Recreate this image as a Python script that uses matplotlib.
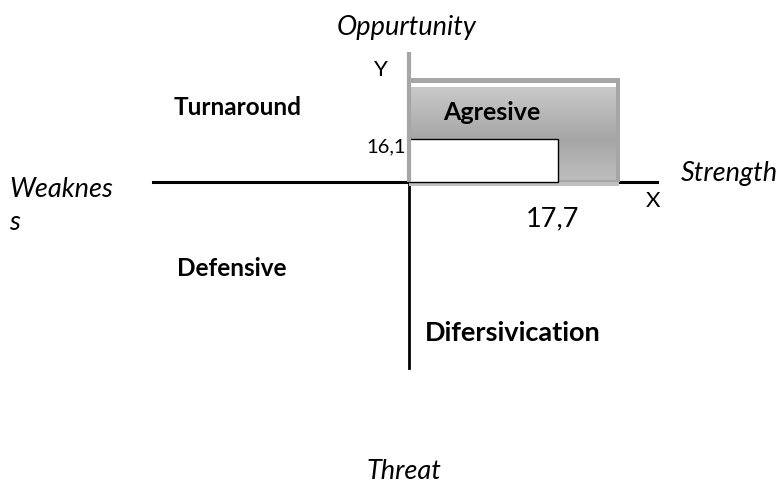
import numpy as np
import matplotlib
matplotlib.use("Agg")
import matplotlib.pyplot as plt
from matplotlib.patches import Rectangle
from matplotlib.colors import LinearSegmentedColormap

# data
x_value = 17.7
y_value = 16.1
x_label = "17,7"
y_label = "16,1"
quadrants = ["Turnaround", "Agresive", "Defensive", "Difersivication"]
sides = ["Oppurtunity", "Weaknes\ns", "Strength", "Threat"]

plt.rcParams['font.family'] = ['Lato', 'DejaVu Sans']

W, H = 784, 489
fig = plt.figure(figsize=(W / 100, H / 100), dpi=100)
ax = fig.add_axes([0, 0, 1, 1])
ax.axis('off')

# origin at pixel (409,183); x_value spans 149 px, y_value spans 43 px
ox, oy = 409, 183
sx = x_value / 149.0
sy = y_value / 43.0
ax.set_xlim(-ox * sx, (W - ox) * sx)
ax.set_ylim(-(H - oy) * sy, oy * sy)


def X(px):
    return (px - ox) * sx


def Y(py):
    return (oy - py) * sy


def rect(x0, y0, x1, y1, **kw):
    ax.add_patch(Rectangle((X(x0), Y(y1)), X(x1) - X(x0), Y(y0) - Y(y1), **kw))


# axes lines
ax.plot([X(153), X(657)], [0, 0], color='black', lw=2.2, zorder=1)
ax.plot([0, 0], [0, Y(369)], color='black', lw=2, zorder=1)

# grey box (gradient)
cmap = LinearSegmentedColormap.from_list('g', [(0, '#c9c9c9'), (0.55, '#a6a6a6'), (1, '#bebebe')])
grad = np.linspace(0, 1, 200).reshape(-1, 1)
ax.imshow(grad, cmap=cmap, aspect='auto', extent=[X(409), X(619), Y(183), Y(88)],
          zorder=2, interpolation='bilinear')
rect(412, 84, 617, 88, color='white', lw=0, zorder=3)
rect(409, 79, 620, 84, color='#a6a6a6', lw=0, zorder=3)
rect(616, 79, 620, 183, color='#a6a6a6', lw=0, zorder=3)
rect(409, 181, 619, 183, color='#a6a6a6', lw=0, zorder=3)
rect(409, 183, 619, 187, color='#c0c0c0', lw=0, zorder=3)

# white value box
ax.add_patch(Rectangle((0, 0), x_value, y_value, facecolor='white',
                       edgecolor='black', lw=1, zorder=4))
# grey y axis above origin
ax.plot([0, 0], [0, Y(53)], color='#a6a6a6', lw=3, zorder=5, solid_capstyle='butt')

# labels
ax.text(X(407), Y(27), sides[0], style='italic', fontsize=19.5, ha='center', va='center')
ax.text(X(9), Y(206), sides[1], style='italic', fontsize=19.5, ha='left', va='center',
        linespacing=1.4)
ax.text(X(681), Y(173), sides[2], style='italic', fontsize=19.5, ha='left', va='center')
ax.text(X(404), Y(472), sides[3], style='italic', fontsize=19.5, ha='center', va='center')

ax.text(X(381), Y(70), "Y", fontsize=16, ha='center', va='center')
ax.text(X(653), Y(201), "X", fontsize=16, ha='center', va='center')
ax.text(X(406), Y(147), y_label, fontsize=14.5, ha='right', va='center')
ax.text(X(553), Y(219), x_label, fontsize=19.5, ha='center', va='center')

ax.text(X(174), Y(107), quadrants[0], fontweight='bold', fontsize=17.5, ha='left', va='center')
ax.text(X(443), Y(112), quadrants[1], fontweight='bold', fontsize=18, ha='left', va='center', zorder=6)
ax.text(X(177), Y(268), quadrants[2], fontweight='bold', fontsize=17.5, ha='left', va='center')
ax.text(X(425), Y(333), quadrants[3], fontweight='bold', fontsize=19.5, ha='left', va='center')

fig.savefig('out.png', dpi=100)
